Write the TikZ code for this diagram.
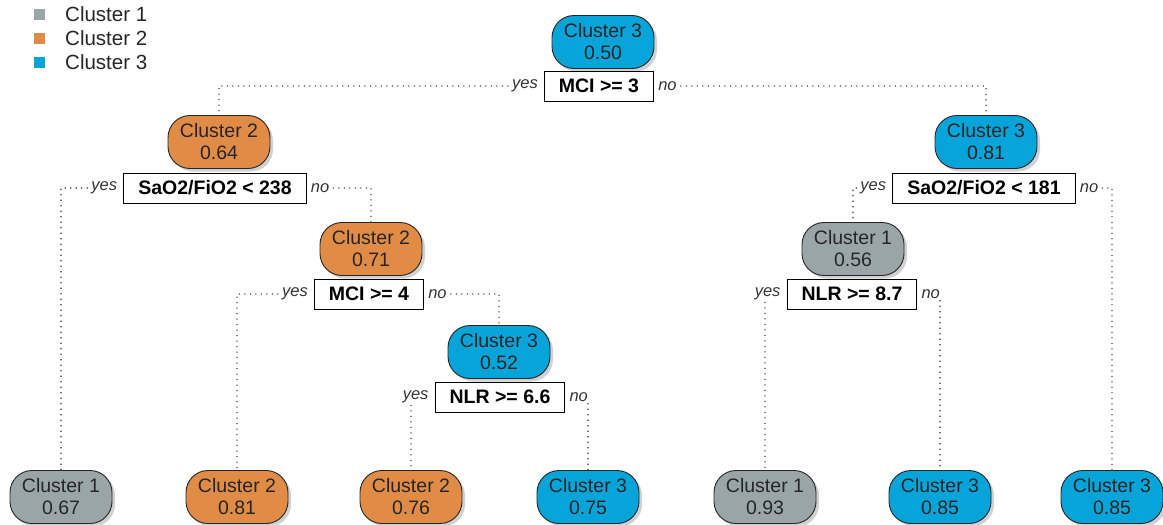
\documentclass[tikz,border=0pt]{standalone}
\usepackage{fontspec}
\setmainfont{Liberation Sans}
\usetikzlibrary{positioning,shadows}

\definecolor{clgrey}{HTML}{9AA5A8}
\definecolor{clorange}{HTML}{E08C46}
\definecolor{clblue}{HTML}{06A4D8}

\tikzset{
  cl/.style={draw=black!85, line width=0.9pt, rounded corners=22pt,
    minimum width=102pt, minimum height=53pt, align=center, inner sep=2pt,
    font=\fontsize{19.5}{22}\selectfont, text=black!85,
    drop shadow={shadow xshift=3pt, shadow yshift=-3pt, fill=black!30, opacity=0.6}},
  cl1/.style={cl, fill=clgrey},
  cl2/.style={cl, fill=clorange},
  cl3/.style={cl, fill=clblue},
  split/.style={draw=black, line width=0.9pt, fill=white, minimum height=30pt,
    inner xsep=14.5pt, inner ysep=2pt, font=\bfseries\fontsize{19.5}{20}\selectfont},
  lab/.style={font=\itshape\fontsize{16.5}{17}\selectfont, text=black!80, inner xsep=4pt, inner ysep=2pt},
  link/.style={draw=black!75, line width=1.6pt, line cap=round, dash pattern=on 0pt off 5.5pt},
  key/.style={fill=#1, minimum size=11pt, inner sep=0pt},
  keytext/.style={font=\fontsize{20.5}{21}\selectfont, text=black!85, anchor=west, inner sep=0pt}
}

\begin{document}
\begin{tikzpicture}[x=1pt,y=-1pt]
  \useasboundingbox (0,0) rectangle (1163,525);

  % legend
  \node[key=clgrey] (k1) at (39,14) {};
  \node[key=clorange] (k2) at (39,38) {};
  \node[key=clblue] (k3) at (39,62) {};
  \node[keytext] at (65,14) {Cluster 1};
  \node[keytext] at (65,38) {Cluster 2};
  \node[keytext] at (65,62) {Cluster 3};

  % root
  \node[cl3] (n1) at (603,42) {Cluster 3\\0.50};
  \node[split] (s1) at (599,86) {MCI >= 3};
  \node[lab, left=2pt of s1] (y1) {yes};
  \node[lab, right=0pt of s1] (o1) {no};

  % left branch
  \node[cl2] (n2) at (219,142) {Cluster 2\\0.64};
  \node[split] (s2) at (215,188) {SaO2/FiO2 < 238};
  \node[lab, left=2pt of s2] (y2) {yes};
  \node[lab, right=0pt of s2] (o2) {no};

  \node[cl2] (n5) at (371,249) {Cluster 2\\0.71};
  \node[split] (s5) at (369,294) {MCI >= 4};
  \node[lab, left=2pt of s5] (y5) {yes};
  \node[lab, right=0pt of s5] (o5) {no};

  \node[cl3] (n11) at (499,352) {Cluster 3\\0.52};
  \node[split] (s11) at (500,397) {NLR >= 6.6};
  \node[lab, left=2pt of s11] (y11) {yes};
  \node[lab, right=0pt of s11] (o11) {no};

  % right branch
  \node[cl3] (n3) at (986,142) {Cluster 3\\0.81};
  \node[split] (s3) at (984,188) {SaO2/FiO2 < 181};
  \node[lab, left=2pt of s3] (y3) {yes};
  \node[lab, right=0pt of s3] (o3) {no};

  \node[cl1] (n6) at (853,249) {Cluster 1\\0.56};
  \node[split] (s6) at (852,294) {NLR >= 8.7};
  \node[lab, left=2pt of s6] (y6) {yes};
  \node[lab, right=0pt of s6] (o6) {no};

  % leaves
  \node[cl1] (n4) at (61,497) {Cluster 1\\0.67};
  \node[cl2] (n10) at (237,497) {Cluster 2\\0.81};
  \node[cl2] (n22) at (411,497) {Cluster 2\\0.76};
  \node[cl3] (n23) at (588,497) {Cluster 3\\0.75};
  \node[cl1] (n12) at (765,497) {Cluster 1\\0.93};
  \node[cl3] (n13) at (940,497) {Cluster 3\\0.85};
  \node[cl3] (n7) at (1112,497) {Cluster 3\\0.85};

  % dotted links
  \draw[link] (y1.west) -| (n2.north);
  \draw[link] (o1.east) -| (n3.north);
  \draw[link] (y2.west) -| (n4.north);
  \draw[link] (o2.east) -| (n5.north);
  \draw[link] (y5.west) -| (n10.north);
  \draw[link] (o5.east) -| (n11.north);
  \draw[link] (y3.west) -| (n6.north);
  \draw[link] (o3.east) -| (n7.north);
  % children right under their label
  \draw[link] (y11.south -| n22.north) -- (n22.north);
  \draw[link] (o11.south -| n23.north) -- (n23.north);
  \draw[link] (y6.south -| n12.north) -- (n12.north);
  \draw[link] (o6.south -| n13.north) -- (n13.north);
\end{tikzpicture}
\end{document}
